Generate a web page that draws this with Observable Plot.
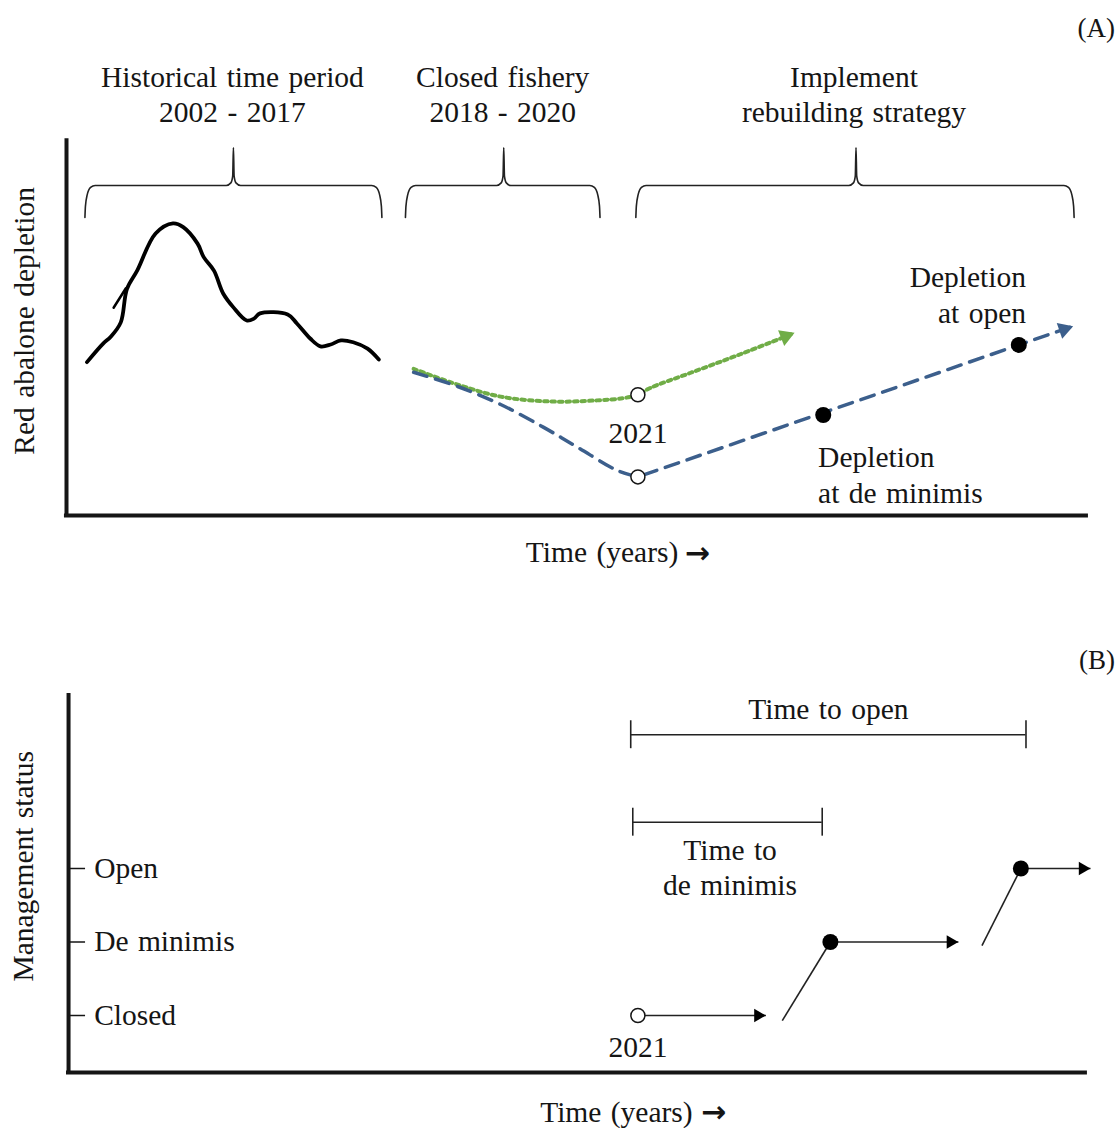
<!DOCTYPE html>
<html><head><meta charset="utf-8">
<script src="https://cdn.jsdelivr.net/npm/d3@7"></script>
<script src="https://cdn.jsdelivr.net/npm/@observablehq/plot@0.6"></script>
<style>
body{margin:0;background:#fff;}
#chart{width:1120px;}
#chart svg{display:block;}
</style></head><body><div id="chart"></div>
<script>
// ===== Panel A data (abstract time units 0–100, depletion units 0–100) =====
const histTime = [2.0, 3.6, 4.3, 5.3, 5.9, 6.9, 8.7, 10.4, 11.4, 12.8, 13.4, 14.4, 15.3, 16.3, 17.6, 18.3, 18.9, 21.6, 22.5, 23.8, 24.8, 25.8, 26.8, 28.0, 29.4, 30.5];
const histDepl = [40.9, 45.9, 47.6, 51.5, 60.4, 65.3, 75.2, 77.9, 76.9, 72.5, 68.9, 65.3, 59.2, 55.5, 52.0, 52.5, 53.9, 53.6, 51.2, 47.2, 45.1, 45.6, 46.7, 46.2, 44.5, 41.6];
const spurTime = [4.6, 5.8];
const spurDepl = [55.4, 60.6];

const closedTime = [33.9, 38.2, 42.4, 46.6, 49.9, 53.8, 55.8];
const closedDepl = [38.2, 34.4, 29.6, 23.5, 18.2, 12.0, 10.3];
const rebuildTime = [55.8, 98.2];
const rebuildDepl = [10.3, 50.4];

const greenTime = [33.9, 38.2, 42.4, 47.3, 51.8, 54.4, 55.8, 57.0, 60.9, 65.8, 71.0];
const greenDepl = [39.1, 34.9, 31.7, 30.4, 30.7, 31.3, 32.2, 34.0, 38.0, 43.0, 48.6];

const openTimeA = [55.8, 55.8];
const openDeplA = [10.3, 32.2];
const milestoneTimeA = [73.9, 93.0];
const milestoneDeplA = [26.8, 45.5];

const headerText = ["Historical time period\n2002 - 2017", "Closed fishery\n2018 - 2020", "Implement\nrebuilding strategy"];
const headerTime = [16.2, 42.6, 76.9];
const braceStart = [1.8, 33.1, 55.6];
const braceMid = [16.3, 42.7, 77.1];
const braceEnd = [30.8, 52.1, 98.4];

const noteText = ["2021", "Depletion\nat open", "Depletion\nat de minimis"];
const noteTime = [55.8, 93.7, 73.4];
const noteDepl = [21.8, 59.1, 11.3];

const xTitle = "Time (years)";
const xTitleArrow = "\u2192";

// ===== Panel B data (status levels: 1 Closed, 2 De minimis, 3 Open) =====
const statusNames = ["Closed", "De minimis", "Open"];
const statusLevels = [1, 2, 3];
const stayStartT = [55.8, 74.6, 93.2];
const stayEndT = [68.3, 87.1, 100.0];
const stayLevel = [1, 2, 3];
const riseStartT = [69.9, 89.4];
const riseStartV = [0.93, 1.95];
const riseEndT = [74.6, 93.2];
const riseEndV = [2, 3];
const milestoneTimeB = [74.6, 93.2];
const milestoneLevelB = [2, 3];
const spanLabels = ["Time to open", "Time to\nde minimis"];
const spanStart = [55.1, 55.3];
const spanEnd = [93.7, 73.8];
const spanLevel = [4.82, 3.63];
const spanLabelT = [74.4, 64.8];
const spanLabelV = [5.19, 3.03];

// ===== scales & helpers =====
const X = {domain: [0, 100], range: [66, 1090], axis: null};
const YA = {domain: [0, 100], range: [515, 140], axis: null};
const YB = {domain: [1, 3], range: [415, 268], axis: null};
const kx = (X.range[1] - X.range[0]) / (X.domain[1] - X.domain[0]);
const kyA = (YA.range[0] - YA.range[1]) / (YA.domain[1] - YA.domain[0]);
const kyB = (YB.range[0] - YB.range[1]) / (YB.domain[1] - YB.domain[0]);
const zip = (xs, ys, extra = {}) => xs.map((x, i) => ({x, y: ys[i], ...extra}));
function head(tipX, tipY, prevX, prevY, ky, back) {
  const a = Math.atan2((tipY - prevY) * ky, (tipX - prevX) * kx);
  return {x: tipX - back * Math.cos(a) / kx, y: tipY - back * Math.sin(a) / ky, rotate: 90 - a * 180 / Math.PI};
}
function brace(t1, tc, t2, k) {
  const end = 79.5, bar = 88, tip = 98.1;
  const pts = [[t1, end], [t1 + 0.05, end + 3], [t1 + 0.22, end + 6], [t1 + 0.55, bar - 0.5], [t1 + 1.0, bar],
    [tc - 0.7, bar], [tc - 0.25, bar + 0.7], [tc - 0.07, bar + 2.5], [tc, tip],
    [tc + 0.07, bar + 2.5], [tc + 0.25, bar + 0.7], [tc + 0.7, bar],
    [t2 - 1.0, bar], [t2 - 0.55, bar - 0.5], [t2 - 0.22, end + 6], [t2 - 0.05, end + 3], [t2, end]];
  return pts.map(([x, y]) => ({x, y, k}));
}
const braces = braceStart.flatMap((s, i) => brace(s, braceMid[i], braceEnd[i], i));
const ink = "#151515";
const blue = "#3c5f8c", green = "#70ad47";
const FS = 29.5;
const style = `font-family: 'Liberation Serif', 'Times New Roman', serif; word-spacing: 2px; background: white; color: ${ink};`;
const arrowFont = "DejaVu Sans";

const headsA = [
  {...head(rebuildTime[1], rebuildDepl[1], rebuildTime[0], rebuildDepl[0], kyA, 8.5), c: blue},
  {...head(greenTime[10], greenDepl[10], greenTime[9], greenDepl[9], kyA, 8.5), c: green}
];

const plotA = Plot.plot({
  width: 1120, height: 600, marginTop: 0, marginRight: 0, marginBottom: 0, marginLeft: 0,
  style, x: X, y: YA,
  marks: [
    Plot.ruleX([0], {y1: -0.3, y2: 100.5, stroke: ink, strokeWidth: 4}),
    Plot.ruleY([0], {x1: -0.2, x2: 99.8, stroke: ink, strokeWidth: 4}),
    Plot.line(braces, {x: "x", y: "y", z: "k", curve: "monotone-x", stroke: "#222", strokeWidth: 1.6}),
    Plot.line(zip(histTime, histDepl), {x: "x", y: "y", curve: "catmull-rom", stroke: "#000", strokeWidth: 3.8, strokeLinejoin: "round", strokeLinecap: "round"}),
    Plot.line(zip(spurTime, spurDepl), {x: "x", y: "y", stroke: "#000", strokeWidth: 2.5}),
    Plot.line(zip(greenTime, greenDepl), {x: "x", y: "y", curve: "catmull-rom", stroke: green, strokeWidth: 4, strokeDasharray: "3.5 4"}),
    Plot.line(zip(closedTime, closedDepl), {x: "x", y: "y", curve: "catmull-rom", stroke: blue, strokeWidth: 3.5, strokeDasharray: "14 9"}),
    Plot.line(zip(rebuildTime, rebuildDepl), {x: "x", y: "y", stroke: blue, strokeWidth: 3.5, strokeDasharray: "14 9", strokeDashoffset: -6}),
    Plot.dot(headsA, {x: "x", y: "y", rotate: "rotate", symbol: "triangle", r: 6.2, fill: "c", stroke: null}),
    Plot.dot(zip(openTimeA, openDeplA), {x: "x", y: "y", r: 7, fill: "white", stroke: ink, strokeWidth: 1.5}),
    Plot.dot(zip(milestoneTimeA, milestoneDeplA), {x: "x", y: "y", r: 8, fill: "#000"}),
    Plot.text(headerText, {x: (d, i) => headerTime[i], y: 112.7, text: d => d, fontSize: FS, lineHeight: 1.2, fill: ink}),
    Plot.text([noteText[0]], {x: noteTime[0], y: noteDepl[0], text: d => d, fontSize: FS, fill: ink}),
    Plot.text([noteText[1]], {x: noteTime[1], y: noteDepl[1], text: d => d, fontSize: FS, lineHeight: 1.22, textAnchor: "end", fill: ink}),
    Plot.text([noteText[2]], {x: noteTime[2], y: noteDepl[2], text: d => d, fontSize: FS, lineHeight: 1.22, textAnchor: "start", fill: ink}),
    Plot.text(["Red abalone depletion"], {x: -4.1, y: 51.9, text: d => d, rotate: -90, fontSize: FS, fill: ink}),
    Plot.text([xTitle], {x: 52.3, y: -10.0, text: d => d, fontSize: FS, fill: ink}),
    Plot.text([xTitleArrow], {x: 61.6, y: -10.0, text: d => d, fontSize: 30, fontWeight: "bold", fontFamily: arrowFont, fill: ink}),
    Plot.text(["(A)"], {x: 102.4, y: 129.8, text: d => d, fontSize: 27, textAnchor: "end", fill: ink})
  ]
});

const headsB = stayEndT.map((t, i) => head(t, stayLevel[i], stayStartT[i], stayLevel[i], kyB, 7.8));

const plotB = Plot.plot({
  width: 1120, height: 528, marginTop: 0, marginRight: 0, marginBottom: 0, marginLeft: 0,
  style, x: X, y: YB,
  marks: [
    Plot.ruleX([0.2], {y1: 0.2, y2: 5.38, stroke: ink, strokeWidth: 4}),
    Plot.ruleY([0.224], {x1: 0.0, x2: 99.7, stroke: ink, strokeWidth: 4}),
    Plot.ruleY(statusLevels, {x1: 0.2, x2: 1.86, stroke: ink, strokeWidth: 1.5}),
    Plot.text(statusNames, {x: 2.7, y: (d, i) => statusLevels[i], text: d => d, textAnchor: "start", fontSize: FS, fill: ink}),
    Plot.ruleY(spanLevel, {x1: (d, i) => spanStart[i], x2: (d, i) => spanEnd[i], stroke: "#222", strokeWidth: 1.6}),
    Plot.ruleX(spanStart, {y1: (d, i) => spanLevel[i] - 0.19, y2: (d, i) => spanLevel[i] + 0.19, stroke: "#222", strokeWidth: 1.6}),
    Plot.ruleX(spanEnd, {y1: (d, i) => spanLevel[i] - 0.19, y2: (d, i) => spanLevel[i] + 0.19, stroke: "#222", strokeWidth: 1.6}),
    Plot.text(spanLabels, {x: (d, i) => spanLabelT[i], y: (d, i) => spanLabelV[i], text: d => d, fontSize: FS, lineHeight: 1.2, fill: ink}),
    Plot.link(stayStartT, {x1: d => d, x2: (d, i) => stayEndT[i], y1: (d, i) => stayLevel[i], y2: (d, i) => stayLevel[i], stroke: "#222", strokeWidth: 1.6}),
    Plot.link(riseStartT, {x1: d => d, x2: (d, i) => riseEndT[i], y1: (d, i) => riseStartV[i], y2: (d, i) => riseEndV[i], stroke: "#222", strokeWidth: 1.6}),
    Plot.dot(headsB, {x: "x", y: "y", rotate: "rotate", symbol: "triangle", r: 5, fill: "#000", stroke: null}),
    Plot.dot([stayStartT[0]], {x: d => d, y: 1, r: 7, fill: "white", stroke: ink, strokeWidth: 1.5}),
    Plot.dot(milestoneTimeB, {x: d => d, y: (d, i) => milestoneLevelB[i], r: 8, fill: "#000"}),
    Plot.text(["2021"], {x: 55.8, y: 0.565, text: d => d, fontSize: FS, fill: ink}),
    Plot.text(["Management status"], {x: -4.2, y: 3.03, text: d => d, rotate: -90, fontSize: FS, fill: ink}),
    Plot.text([xTitle], {x: 53.7, y: -0.32, text: d => d, fontSize: FS, fill: ink}),
    Plot.text([xTitleArrow], {x: 63.2, y: -0.32, text: d => d, fontSize: 30, fontWeight: "bold", fontFamily: arrowFont, fill: ink}),
    Plot.text(["(B)"], {x: 102.4, y: 5.83, text: d => d, fontSize: 27, textAnchor: "end", fill: ink})
  ]
});

document.getElementById("chart").append(plotA, plotB);
</script></body></html>
